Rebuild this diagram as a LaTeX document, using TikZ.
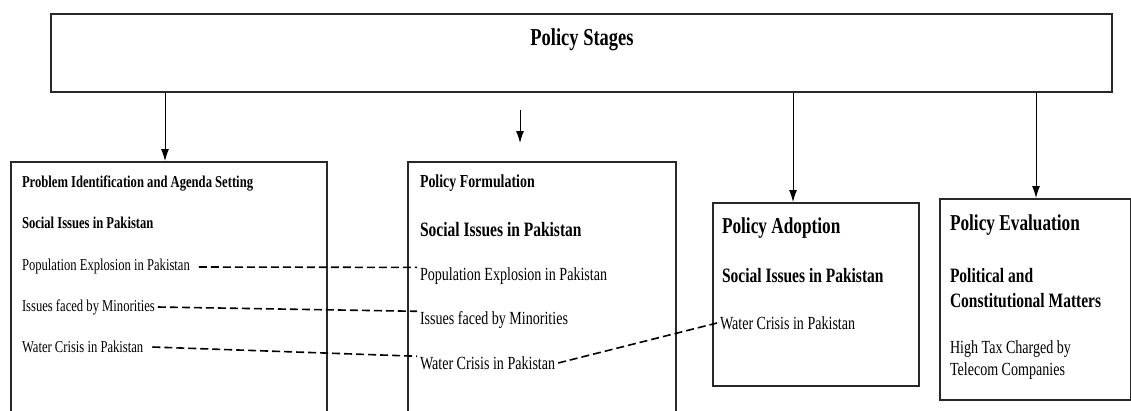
\documentclass[tikz,border=0pt]{standalone}
\usepackage{fontspec}
\setmainfont{Liberation Serif}[FakeStretch=0.76]
\usepackage{tikz}
\usetikzlibrary{arrows.meta}
\definecolor{boxgray}{RGB}{40,40,40}

\tikzset{
  stagebox/.style={draw=boxgray,line width=1.5pt,anchor=north west,inner sep=0pt},
  item/.style={anchor=west,inner sep=0pt,outer xsep=3pt,align=left},
  arr/.style={-{Latex[length=12pt,width=8pt]},line width=1pt},
  link/.style={dash pattern=on 8pt off 4pt,line width=1.6pt}
}
\newcommand{\fsz}[1]{\fontsize{#1}{1.2\dimexpr#1pt\relax}\selectfont}

\begin{document}
\begin{tikzpicture}[x=1pt,y=-1pt]
            \useasboundingbox (0,0) rectangle (1131,410);
            \fill[white] (0,0) rectangle (1131,410);

            % top box
            \node[stagebox,line width=2.2pt,minimum width=1061pt,minimum height=78pt] (stages) at (50,13) {};
            \node[font=\bfseries\fsz{24.3}] (stagestitle) at (582,40) {Policy Stages};

            % stage boxes
            \node[stagebox,minimum width=316pt,minimum height=260pt] (prob) at (10,161) {};
            \node[stagebox,minimum width=268pt,minimum height=260pt] (form) at (407,161) {};
            \node[stagebox,minimum width=206pt,minimum height=183pt] (adopt) at (712,202) {};
            \node[stagebox,minimum width=191pt,minimum height=201pt] (eval) at (939,198) {};

            % arrows
            \coordinate (a1) at (165,0);
            \coordinate (a2) at (520,0);
            \coordinate (a3) at (793,0);
            \coordinate (a4) at (1036,0);
            \draw[arr] (stages.south -| a1) -- (prob.north -| a1);
            \draw[arr] ([yshift=-17pt]stages.south -| a2) -- ([yshift=18pt]form.north -| a2);
            \draw[arr] (stages.south -| a3) -- (adopt.north -| a3);
            \draw[arr] (stages.south -| a4) -- (eval.north -| a4);

            % problem identification
            \node[item,font=\bfseries\fsz{16.6}] (probtitle) at (19,183) {Problem Identification and Agenda Setting};
            \node[item,font=\bfseries\fsz{16.6}] (soc1) at (19,223) {Social Issues in Pakistan};
            \node[item,font=\fsz{16.6}] (pop1) at (19,267) {Population Explosion in Pakistan};
            \node[item,font=\fsz{16.6}] (min1) at (19,307) {Issues faced by Minorities};
            \node[item,font=\fsz{16.6}] (wat1) at (19,347) {Water Crisis in Pakistan};

            % policy formulation
            \node[item,font=\bfseries\fsz{18.3}] (formtitle) at (417,183) {Policy Formulation};
            \node[item,font=\bfseries\fsz{20.4}] (soc2) at (417,230) {Social Issues in Pakistan};
            \node[item,font=\fsz{18.5}] (pop2) at (417,276) {Population Explosion in Pakistan};
            \node[item,font=\fsz{18.5}] (min2) at (417,320) {Issues faced by Minorities};
            \node[item,font=\fsz{18.5}] (wat2) at (417,363) {Water Crisis in Pakistan};

            % policy adoption
            \node[item,font=\bfseries\fsz{22.7}] (adopttitle) at (719,228) {Policy Adoption};
            \node[item,font=\bfseries\fsz{20.4}] (soc3) at (719,276) {Social Issues in Pakistan};
            \node[item,font=\fsz{18.5}] (wat3) at (717,323) {Water Crisis in Pakistan};

            % policy evaluation
            \node[item,font=\bfseries\fsz{22.7}] (evaltitle) at (947,225) {Policy Evaluation};
            \node[item,font=\bfseries\fsz{20.4}] (polit) at (947,288) {Political and\\Constitutional Matters};
            \node[item,font=\fsz{18.5}] (tax) at (947,360) {High Tax Charged by\\Telecom Companies};

            % dashed links
            \draw[link] ([xshift=6pt]pop1.east) -- (pop2.north west);
            \draw[link] (min1.east) -- (min2.north west);
            \draw[link] ([xshift=6pt]wat1.east) -- (wat2.north west);
            \draw[link] (wat2.east) -- (wat3.west);
        \end{tikzpicture}
\end{document}
